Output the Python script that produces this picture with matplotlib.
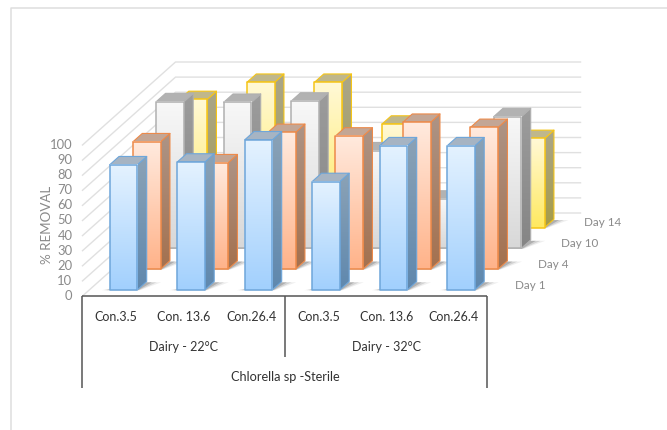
import numpy as np
import matplotlib
matplotlib.use("Agg")
import matplotlib.pyplot as plt
from matplotlib.colors import LinearSegmentedColormap
from matplotlib.patches import Polygon

# ---- values -------------------------------------------------------------
conditions = ["Con.3.5", "Con. 13.6", "Con.26.4", "Con.3.5", "Con. 13.6", "Con.26.4"]
groups = ["Dairy - 22°C", "Dairy - 32°C"]
organism = "Chlorella sp -Sterile"
days = ["Day 1", "Day 4", "Day 10", "Day 14"]
day_1 = [82.8, 84.6, 99.3, 71.7, 95.4, 95.4]
day_4 = [84.3, 70.4, 90.5, 88.1, 97.2, 93.8]
day_10 = [97.1, 96.7, 97.5, 64.6, 32.6, 87.2]
day_14 = [84.8, 96.2, 96.2, 68.5, 30.0, 59.0]
y_ticks = list(range(0, 101, 10))

# ---- face colours per series: front top/bottom, side top/bottom, lid, edge
styles = {
    "Day 1": ("#e4f2ff", "#a2d0fd", "#8ba2b6", "#5f88ae", "#a6b4c3", "#6ea6da"),
    "Day 4": ("#ffeade", "#ffb38a", "#ad9486", "#a4714f", "#c3a695", "#ed8a4a"),
    "Day 10": ("#f8f8f8", "#d8d8d8", "#9c9c9c", "#858585", "#b2b2b2", "#b0b0b0"),
    "Day 14": ("#fff9d6", "#ffe960", "#aaa68a", "#a69c48", "#bfb78c", "#f5c518"),
}

# ---- oblique projection: one category = 67.5 px, 100 % = 151 px -----------
PX_X, PX_Y = 67.5, 1.51
DEPTH_X, DEPTH_Y = 93 / PX_X, 83 / PX_Y   # data shift for the full chart depth
series_depth = [0.075, 0.325, 0.575, 0.825]
BAR_DEPTH = 0.10
BAR_START, BAR_WIDTH = 0.30, 0.41


def proj(x, v, d):
    return x + d * DEPTH_X, v + d * DEPTH_Y


W, H = 667, 430
fig = plt.figure(figsize=(W / 100, H / 100), dpi=100)
ax = fig.add_axes([0, 0, 1, 1])
xlim = (-82.5 / PX_X, (W - 82.5) / PX_X)
ylim = ((296 - H) / PX_Y, 296 / PX_Y)
ax.axis("off")

plt.rcParams["font.family"] = ["Lato", "DejaVu Sans"]
GRID = "#e0e0e0"

# page frame, in axes fractions
ax.plot([1, 10.5 / W, 10.5 / W], [1 - 7.5 / H, 1 - 7.5 / H, 0], transform=ax.transAxes,
        color="#dedede", lw=1.1, clip_on=False, zorder=1)

# back wall and side wall gridlines
for v in y_ticks:
    x0, y0 = proj(0, v, 0)
    x1, y1 = proj(0, v, 1)
    x2, y2 = proj(6, v, 1)
    ax.plot([x0, x1, x2], [y0, y1, y2], color=GRID, lw=1.0, zorder=1, solid_joinstyle="miter")


def gradient(top, bottom):
    return LinearSegmentedColormap.from_list("face", [bottom, top])


ramp = np.linspace(0, 1, 64).reshape(-1, 1)
z = 2

# series painted from the back of the chart to the front
for name, values, d in reversed(list(zip(days, [day_1, day_4, day_10, day_14], series_depth))):
    f_top, f_bot, s_top, s_bot, lid, edge = styles[name]
    for i, v in enumerate(values):
        left = i + BAR_START
        right = left + BAR_WIDTH
        d2 = d + BAR_DEPTH

        # soft floor shadow
        for grow, a in [(0.23, 0.08), (0.16, 0.14), (0.09, 0.22)]:
            sh = [proj(left - grow * 0.5, 0, d - 0.005), proj(right + grow * 0.2, 0, d - 0.005),
                  proj(right + grow, 0, d2 - 0.01), proj(right, 0, d2 - 0.01)]
            ax.add_patch(Polygon(sh, closed=True, fc="#303030", ec="none", alpha=a, zorder=z))
        z += 1

        # side face
        side = [proj(right, 0, d), proj(right, v, d), proj(right, v, d2), proj(right, 0, d2)]
        xs = [p[0] for p in side]
        ys = [p[1] for p in side]
        im = ax.imshow(ramp, extent=(min(xs), max(xs), min(ys), max(ys)), origin="lower",
                       cmap=gradient(s_top, s_bot), aspect="auto", zorder=z, interpolation="bilinear")
        clip = Polygon(side, closed=True, fc="none", ec=edge, lw=0.8, zorder=z + 0.2, joinstyle="round")
        ax.add_patch(clip)
        im.set_clip_path(clip)

        # lid
        top_face = [proj(left, v, d), proj(right, v, d), proj(right, v, d2), proj(left, v, d2)]
        ax.add_patch(Polygon(top_face, closed=True, fc=lid, ec=edge, lw=0.8, zorder=z + 0.3, joinstyle="round"))

        # front face
        fx0, fx1 = proj(left, 0, d)[0], proj(right, 0, d)[0]
        fy0, fy1 = proj(left, 0, d)[1], proj(left, v, d)[1]
        ax.imshow(ramp, extent=(fx0, fx1, fy0, fy1), origin="lower", cmap=gradient(f_top, f_bot),
                  aspect="auto", zorder=z + 0.4, interpolation="bilinear")
        front = [(fx0, fy0), (fx1, fy0), (fx1, fy1), (fx0, fy1)]
        ax.add_patch(Polygon(front, closed=True, fc="none", ec=edge, lw=1.1, zorder=z + 0.5, joinstyle="round"))
        z += 1

ax.set_xlim(*xlim)
ax.set_ylim(*ylim)

# value axis
TICK = "#8a8a8a"
for v in y_ticks:
    ax.text(-10 / PX_X, v, str(v), ha="right", va="center", color=TICK, fontsize=9.4, zorder=z)
ax.text(-35.5 / PX_X, 47, "% REMOVAL", rotation=90, ha="center", va="center",
        color=TICK, fontsize=9.6, zorder=z)

# depth axis labels
for name, d in zip(days, series_depth):
    gx, gy = proj(6, 0, d)
    ax.text(gx + 0.30, gy + 3.0, name, ha="left", va="center", color=TICK, fontsize=8.4, zorder=z)

# multi-level category table below the floor
LINE = "#555555"
row_cond, row_group, row_org = -13.6, -33.8, -53.6
table_bottom, group_bottom = -61.0, -40.7
for xs, ys in [([0, 0], [0, table_bottom]), ([6, 6], [0, table_bottom]),
               ([3, 3], [0, group_bottom]), ([0, 6], [0, 0])]:
    ax.plot(xs, ys, color=LINE, lw=1.1, zorder=z, solid_capstyle="butt")

TEXT = "#333333"
for i, c in enumerate(conditions):
    ax.text(i + 0.5, row_cond, c, ha="center", va="center", color=TEXT, fontsize=9.0, zorder=z)
for j, g in enumerate(groups):
    ax.text(3 * j + 1.5, row_group, g, ha="center", va="center", color=TEXT, fontsize=9.0, zorder=z)
ax.text(3, row_org, organism, ha="center", va="center", color=TEXT, fontsize=9.2, zorder=z)

fig.savefig("out.png", dpi=100, facecolor="white")
